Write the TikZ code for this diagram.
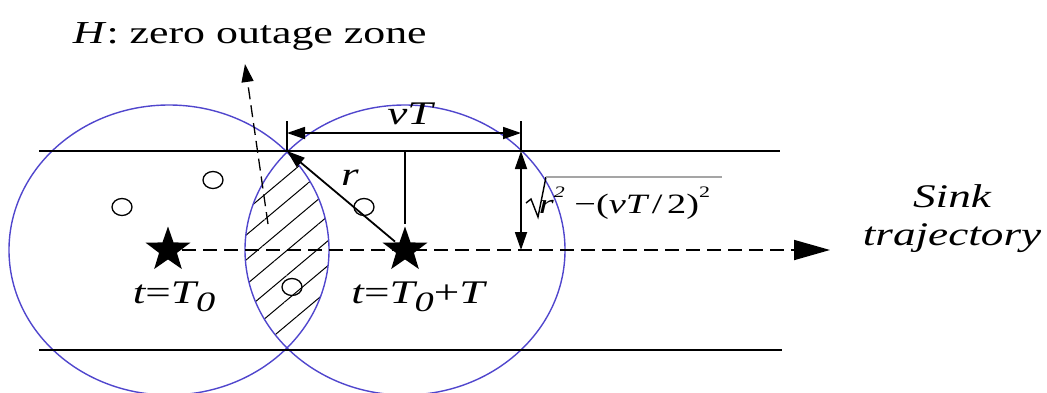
\documentclass[tikz,border=0pt]{standalone}
\usepackage{fontspec}
\setmainfont{Liberation Serif}[FakeStretch=1.37]
\usetikzlibrary{arrows.meta,shapes.geometric,patterns.meta}
\definecolor{cblue}{RGB}{80,70,205}
\definecolor{vgray}{RGB}{165,165,165}
\newcommand{\supx}[1]{\raisebox{0.55em}{\fontsize{16}{16}\selectfont #1}}
\newcommand{\subz}{\raisebox{-0.25em}{\fontsize{28}{28}\selectfont\itshape 0}}
\begin{document}
\begin{tikzpicture}[x=1pt,y=-1pt,line width=1.8pt,
  bluec/.style={draw=cblue,line width=1.4pt},
  hatch/.style={pattern={Lines[angle=40,distance=19pt,line width=1pt]}},
  arr/.style={-{Triangle[length=18pt,width=12pt]}},
  darr/.style={{Triangle[length=18pt,width=12pt]}-{Triangle[length=18pt,width=12pt]}},
  bigarr/.style={-{Triangle[length=36pt,width=20pt]}},
  dash14/.style={dash pattern=on 14pt off 7pt},
  starnode/.style={star,star points=5,star point ratio=2.5,fill=black,draw=none,inner sep=0pt,minimum size=47pt},
  sensor/.style={ellipse,draw,line width=1.3pt,inner sep=0pt,minimum width=20pt,minimum height=17pt},
  lab/.style={font=\fontsize{33}{38}\selectfont\itshape,inner sep=0pt},
  title/.style={font=\fontsize{32}{38}\selectfont,inner sep=0pt},
  small/.style={font=\fontsize{28}{30}\selectfont,inner sep=0pt}]
\useasboundingbox (0,0) rectangle (1047,392);
% coordinates
\coordinate (C1) at (169,250);
\coordinate (C2) at (405,250);
\coordinate (P) at (287,151);
\coordinate (Q) at (521,151);
\coordinate (Qb) at (521,250);
\coordinate (M) at (405,151);
\coordinate (TL1) at (39,151);
\coordinate (TL2) at (780,151);
\coordinate (BL1) at (39,350);
\coordinate (BL2) at (782,350);
\coordinate (VL) at (287,133);
\coordinate (VR) at (521,133);
\coordinate (VLt) at (287,121);
\coordinate (VRt) at (521,121);
\coordinate (Tip) at (830,250);
\coordinate (Hs) at (268,224);
\coordinate (Ht) at (245,64);
% hatched lens
\begin{scope}
  \clip (C1) ellipse [x radius=160pt, y radius=145pt];
  \fill[hatch] (C2) ellipse [x radius=160pt, y radius=145pt];
\end{scope}
% circles
\draw[bluec] (C1) ellipse [x radius=160pt, y radius=145pt];
\draw[bluec] (C2) ellipse [x radius=160pt, y radius=145pt];
% road lines
\draw (TL1) -- (TL2);
\draw (BL1) -- (BL2);
% sensors
\node[sensor] (n1) at (122,207) {};
\node[sensor] (n2) at (213,180) {};
\node[sensor] (n3) at (364,207) {};
\node[sensor] (n4) at (292,287) {};
% stars
\node[starnode] (st1) at (168,250) {};
\node[starnode] (st2) at (405,250) {};
% trajectory
\draw[dash14,bigarr] (st1) -- (Tip);
% r and vertical
\draw[arr] (st2) -- (P);
\draw (M) -- (st2);
% vT
\draw (VLt) -- (P);
\draw (VRt) -- (Q);
\draw[darr] (VL) -- (VR);
% sqrt arrow
\draw[darr] (Q) -- (Qb);
% H arrow
\draw[dash pattern=on 12pt off 6pt,line width=1.3pt,arr] (Hs) -- (Ht);
% sqrt sign
\draw[line width=1.4pt] (526,203) -- (531,199) -- (538,217) -- (546,177);
\draw[vgray,line width=2pt] (546,177) -- (722,177);
% texts
\node[title,anchor=base west] (ht) at (72,43) {\textit{H}: zero outage zone};
\node[lab,anchor=base] (lvt) at (410,124) {vT};
\node[lab,anchor=base] (lr) at (350,185) {r};
\node[lab,anchor=base] (l0) at (174,303) {t\upshape=\itshape T\subz};
\node[lab,anchor=base] (l1) at (418,303) {t\upshape=\itshape T\subz\upshape+\itshape T};
\node[small,anchor=base west] (lsq) at (538,213) {\itshape r\supx{2} \upshape−(\itshape vT\upshape\,/\,2)\supx{2}};
\node[lab,anchor=base,align=center] (ls) at (952,245) {Sink\\trajectory};
\end{tikzpicture}
\end{document}
